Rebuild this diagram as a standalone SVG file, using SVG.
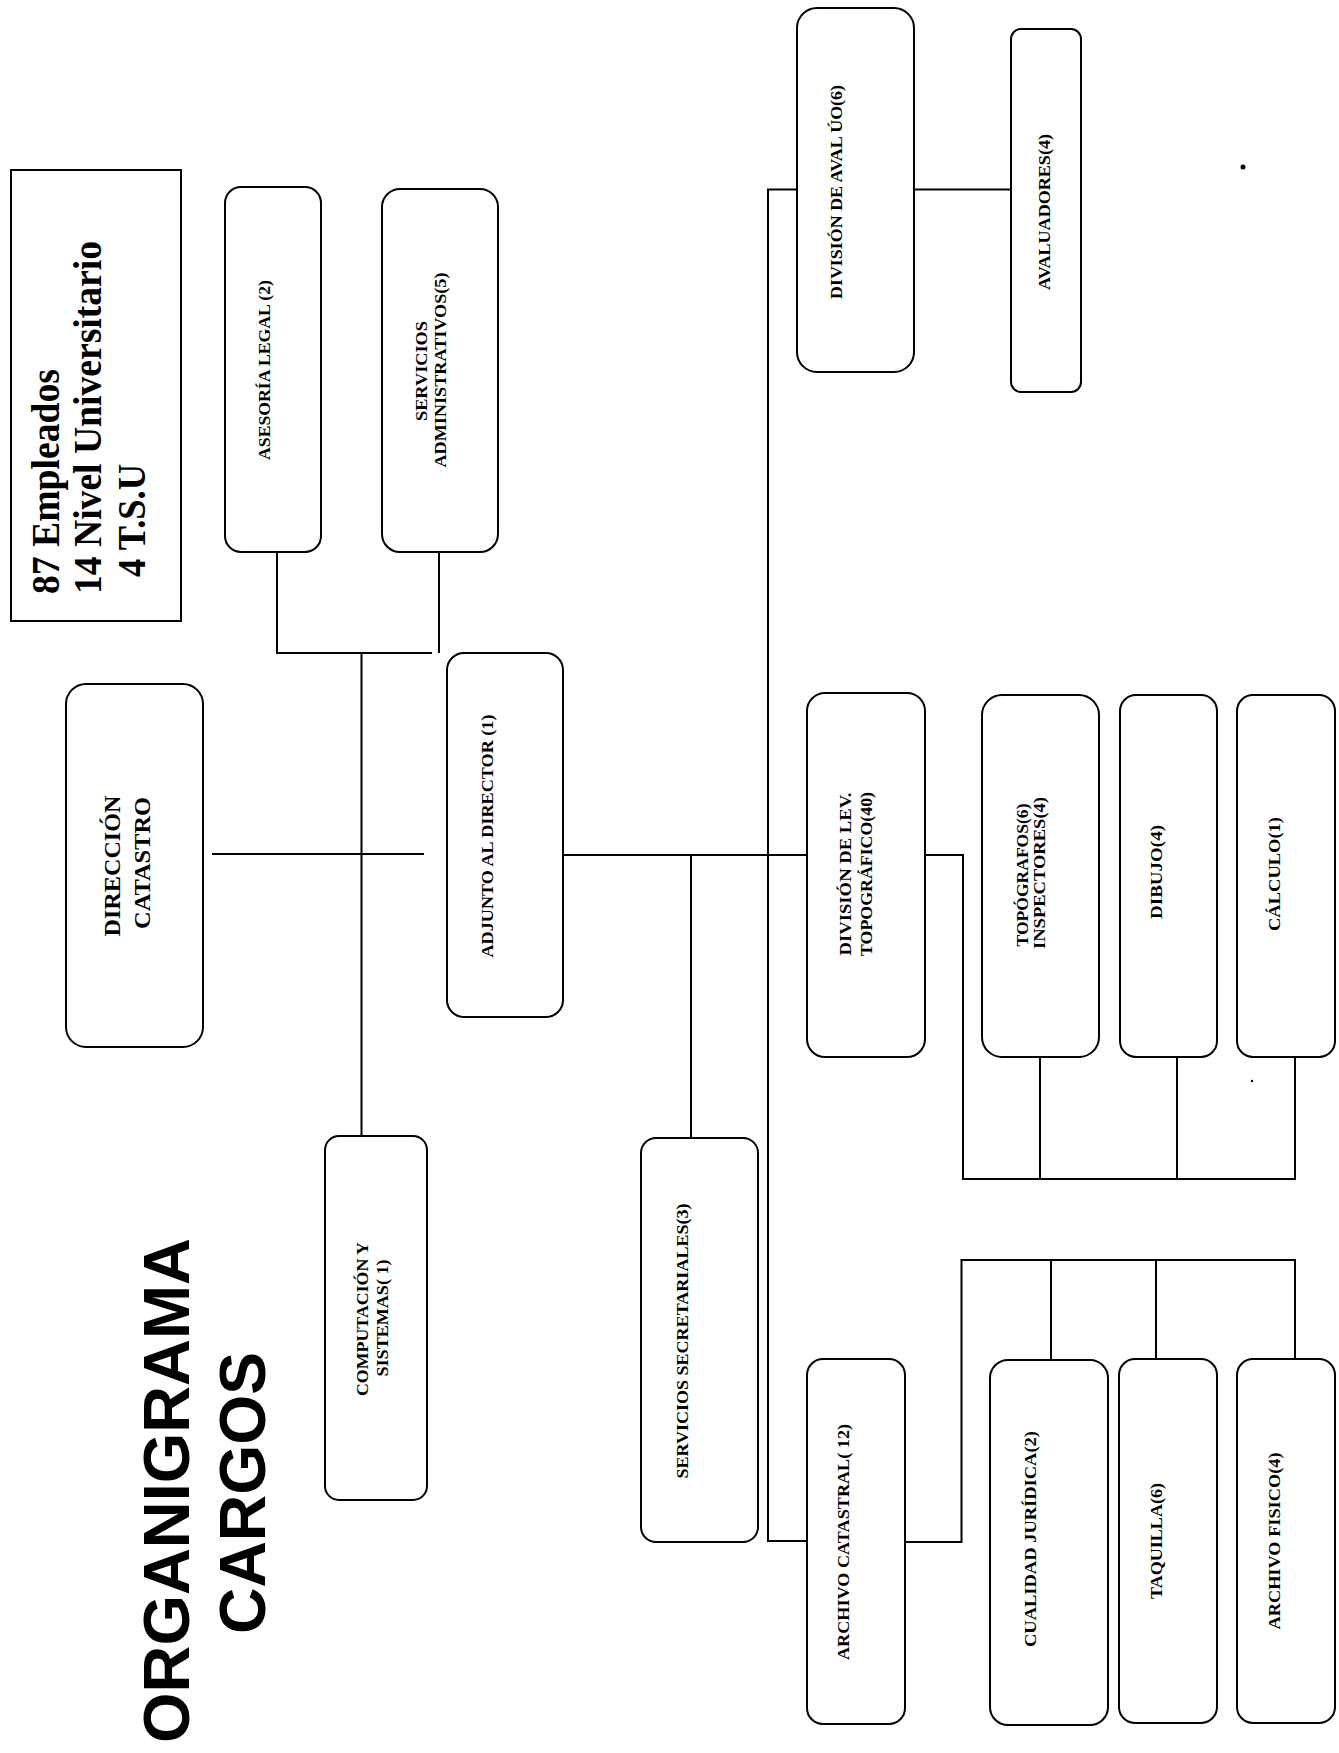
<svg xmlns="http://www.w3.org/2000/svg" width="1339" height="1753" viewBox="0 0 1339 1753">
<style>
.bg{fill:#fff}
.box{fill:#fff;stroke:#000;stroke-width:2}
.lbl{font-family:"Liberation Serif","Times New Roman",serif;font-weight:bold;font-size:17px;fill:#000;text-anchor:middle}
.big{font-size:24px}
.stat{font-family:"Liberation Serif","Times New Roman",serif;font-weight:bold;font-size:40px;fill:#000}
.title{font-family:"Liberation Sans",Arial,sans-serif;font-weight:bold;font-size:65px;fill:#000}
.conn path{fill:none;stroke:#000;stroke-width:2}
</style>
<rect class="bg" x="0" y="0" width="1339" height="1753"/>

<g id="connectors" class="conn">
<path d="M277,552 V653 H432"/>
<path d="M439,552 V653"/>
<path d="M361.5,653 V1136"/>
<path d="M212,854 H424"/>
<path d="M563,855 H816"/>
<path d="M691,855 V1138"/>
<path d="M807,189.5 H768 V1541 H807"/>
<path d="M914,189.5 H1011"/>
<path d="M925,855 H963 V1179 H1295 V1057"/>
<path d="M1040,1179 V1057"/>
<path d="M1177,1179 V1057"/>
<path d="M905,1542 H961.5 V1260 H1295 V1359"/>
<path d="M1051,1260 V1360"/>
<path d="M1156,1260 V1359"/>
</g>

<g id="stats">
<rect class="box" x="11" y="170" width="170" height="451"/>
<text class="stat" transform="translate(59,594) rotate(-90)" textLength="225" lengthAdjust="spacingAndGlyphs">87 Empleados</text>
<text class="stat" transform="translate(101,594) rotate(-90)" textLength="353" lengthAdjust="spacingAndGlyphs">14 Nivel Universitario</text>
<text class="stat" transform="translate(145,577) rotate(-90)" textLength="113" lengthAdjust="spacingAndGlyphs">4 T.S.U</text>
</g>

<g id="title">
<text class="title" transform="translate(189,1743) rotate(-90)" textLength="505" lengthAdjust="spacingAndGlyphs">ORGANIGRAMA</text>
<text class="title" text-anchor="middle" transform="translate(265,1493) rotate(-90)" textLength="282" lengthAdjust="spacingAndGlyphs">CARGOS</text>
</g>

<g id="asesoria">
<rect class="box" x="225" y="187" width="96" height="365" rx="16"/>
<text class="lbl" transform="translate(270,370) rotate(-90)" textLength="180" lengthAdjust="spacingAndGlyphs">ASESORÍA LEGAL (2)</text>
</g>

<g id="servicios-administrativos">
<rect class="box" x="382" y="189" width="116" height="363" rx="18"/>
<text class="lbl" transform="translate(427,371) rotate(-90)" textLength="100" lengthAdjust="spacingAndGlyphs">SERVICIOS</text>
<text class="lbl" transform="translate(446,370) rotate(-90)" textLength="195" lengthAdjust="spacingAndGlyphs">ADMINISTRATIVOS(5)</text>
</g>

<g id="direccion">
<rect class="box" x="66" y="684" width="137" height="363" rx="20"/>
<text class="lbl big" transform="translate(120,866) rotate(-90)" textLength="141" lengthAdjust="spacingAndGlyphs">DIRECCIÓN</text>
<text class="lbl big" transform="translate(150,863) rotate(-90)" textLength="132" lengthAdjust="spacingAndGlyphs">CATASTRO</text>
</g>

<g id="adjunto">
<rect class="box" x="447" y="653" width="116" height="364" rx="17"/>
<text class="lbl" transform="translate(493,836) rotate(-90)" textLength="243" lengthAdjust="spacingAndGlyphs">ADJUNTO AL DIRECTOR (1)</text>
</g>

<g id="computacion">
<rect class="box" x="325" y="1136" width="102" height="364" rx="14"/>
<text class="lbl" transform="translate(368,1319) rotate(-90)" textLength="154" lengthAdjust="spacingAndGlyphs">COMPUTACIÓN Y</text>
<text class="lbl" transform="translate(388,1318) rotate(-90)" textLength="117" lengthAdjust="spacingAndGlyphs">SISTEMAS( 1)</text>
</g>

<g id="servicios-secretariales">
<rect class="box" x="641" y="1138" width="117" height="404" rx="15"/>
<text class="lbl" transform="translate(688,1341) rotate(-90)" textLength="275" lengthAdjust="spacingAndGlyphs">SERVICIOS SECRETARIALES(3)</text>
</g>

<g id="division-avaluo">
<rect class="box" x="797" y="8" width="117" height="364" rx="20"/>
<text class="lbl" transform="translate(842,192) rotate(-90)" textLength="214" lengthAdjust="spacingAndGlyphs">DIVISIÓN DE AVAL ÚO(6)</text>
</g>

<g id="avaluadores">
<rect class="box" x="1011" y="29" width="70" height="363" rx="10"/>
<text class="lbl" transform="translate(1050,212) rotate(-90)" textLength="156" lengthAdjust="spacingAndGlyphs">AVALUADORES(4)</text>
</g>

<g id="division-levantamiento">
<rect class="box" x="807" y="693" width="118" height="364" rx="18"/>
<text class="lbl" transform="translate(851,874) rotate(-90)" textLength="163" lengthAdjust="spacingAndGlyphs">DIVISIÓN DE LEV.</text>
<text class="lbl" transform="translate(872,874) rotate(-90)" textLength="164" lengthAdjust="spacingAndGlyphs">TOPOGRÁFICO(40)</text>
</g>

<g id="topografos">
<rect class="box" x="982" y="695" width="117" height="362" rx="20"/>
<text class="lbl" transform="translate(1028,875) rotate(-90)" textLength="143" lengthAdjust="spacingAndGlyphs">TOPÓGRAFOS(6)</text>
<text class="lbl" transform="translate(1045,873) rotate(-90)" textLength="152" lengthAdjust="spacingAndGlyphs">INSPECTORES(4)</text>
</g>

<g id="dibujo">
<rect class="box" x="1120" y="695" width="97" height="362" rx="16"/>
<text class="lbl" transform="translate(1162,872) rotate(-90)" textLength="94" lengthAdjust="spacingAndGlyphs">DIBUJO(4)</text>
</g>

<g id="calculo">
<rect class="box" x="1237" y="695" width="98" height="362" rx="16"/>
<text class="lbl" transform="translate(1280,874) rotate(-90)" textLength="114" lengthAdjust="spacingAndGlyphs">CÁLCULO(1)</text>
</g>

<g id="archivo-catastral">
<rect class="box" x="807" y="1359" width="98" height="365" rx="16"/>
<text class="lbl" transform="translate(849,1542) rotate(-90)" textLength="236" lengthAdjust="spacingAndGlyphs">ARCHIVO CATASTRAL( 12)</text>
</g>

<g id="cualidad-juridica">
<rect class="box" x="990" y="1360" width="118" height="365" rx="18"/>
<text class="lbl" transform="translate(1036,1539) rotate(-90)" textLength="216" lengthAdjust="spacingAndGlyphs">CUALIDAD JURÍDICA(2)</text>
</g>

<g id="taquilla">
<rect class="box" x="1119" y="1359" width="98" height="364" rx="16"/>
<text class="lbl" transform="translate(1162,1541) rotate(-90)" textLength="116" lengthAdjust="spacingAndGlyphs">TAQUILLA(6)</text>
</g>

<g id="archivo-fisico">
<rect class="box" x="1237" y="1359" width="98" height="364" rx="16"/>
<text class="lbl" transform="translate(1280,1541) rotate(-90)" textLength="177" lengthAdjust="spacingAndGlyphs">ARCHIVO FISICO(4)</text>
</g>

<g id="specks">
<circle cx="1243" cy="167" r="2.5" fill="#000"/>
<circle cx="1252" cy="1081" r="1.2" fill="#000"/>
</g>
</svg>
